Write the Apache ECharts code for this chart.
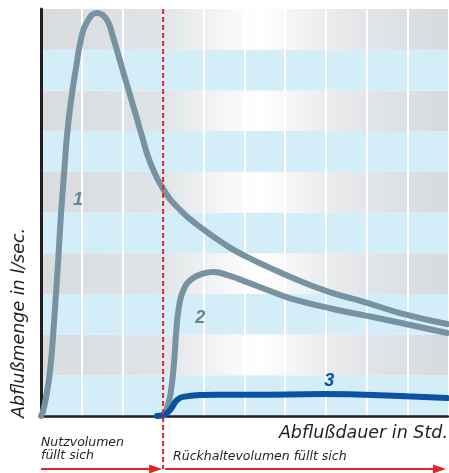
<!DOCTYPE html>
<html>
<head>
<meta charset="utf-8">
<script src="https://cdn.jsdelivr.net/npm/echarts@6/dist/echarts.min.js"></script>
<style>
  html, body { margin: 0; padding: 0; background: #fff; }
  #chart { width: 449px; height: 473px; }
</style>
</head>
<body>
<div id="chart"></div>
<script>
  // [hours, l/sec] (axes are unlabelled, 1 unit = 1 grid cell)
  var curve1 = [[0, 0], [0.05, 0.12], [0.12, 0.44], [0.20, 0.93], [0.27, 1.62], [0.34, 2.60], [0.42, 3.78],
    [0.49, 4.94], [0.57, 6.00], [0.64, 6.90], [0.74, 7.76], [0.86, 8.55], [0.98, 9.24], [1.13, 9.68],
    [1.38, 9.90], [1.52, 9.85], [1.65, 9.68], [1.77, 9.31], [1.92, 8.80], [2.09, 8.21], [2.26, 7.64],
    [2.46, 6.95], [2.68, 6.24], [3.00, 5.58], [3.42, 5.06], [3.98, 4.59], [4.57, 4.18], [5.06, 3.91],
    [5.63, 3.64], [6.19, 3.39], [6.61, 3.22], [7.17, 3.02], [8.01, 2.78], [8.82, 2.53], [9.98, 2.26]];
  var curve2 = [[3.00, 0], [3.10, 0.20], [3.19, 0.59], [3.27, 1.33], [3.32, 2.04], [3.39, 2.68], [3.51, 3.12],
    [3.71, 3.37], [3.96, 3.49], [4.23, 3.54], [4.64, 3.44], [5.06, 3.29], [5.63, 3.07], [6.19, 2.87],
    [7.17, 2.63], [8.01, 2.46], [8.82, 2.29], [9.98, 2.04]];
  var curve3 = [[2.85, 0], [3.00, 0.02], [3.17, 0.15], [3.34, 0.39], [3.49, 0.47], [4.32, 0.52], [5.14, 0.52],
    [6.95, 0.54], [8.82, 0.49], [9.98, 0.44]];

  var curveNames = ['1', '2', '3'];
  var namePos = [[0.91, 5.31], [3.91, 2.41], [7.08, 0.86]];
  var curveColors = ['#7792a0', '#7792a0', '#0a52a2'];
  var nameColors = ['#6a8593', '#6a8593', '#0a55a8'];

  var fillTime = 3;   // Nutzvolumen voll
  var xMax = 10, yMax = 10;

  var xTitle = 'Abflußdauer in Std.';
  var yTitle = 'Abflußmenge in l/sec.';
  var phase1 = ['Nutzvolumen', 'füllt sich'];
  var phase2 = 'Rückhaltevolumen füllt sich';

  var red = '#e5232b';
  var txtFont = 'DejaVu Sans';

  var greyBand = {
    type: 'linear', x: 0, y: 0, x2: 1, y2: 0,
    colorStops: [
      { offset: 0, color: '#d8dcdf' },
      { offset: 0.3, color: '#e1e4e6' },
      { offset: 0.53, color: '#ffffff' },
      { offset: 0.72, color: '#e8eaec' },
      { offset: 1, color: '#d6dadd' }
    ]
  };

  var series = [curve1, curve2, curve3].map(function (d, i) {
    return {
      type: 'line',
      data: d,
      smooth: 0.5,
      showSymbol: false,
      silent: true,
      lineStyle: { color: curveColors[i], width: 6, cap: 'round' },
      markPoint: {
        symbol: 'circle',
        symbolSize: 0,
        silent: true,
        label: {
          show: true, position: 'inside',
          formatter: curveNames[i],
          color: nameColors[i],
          fontSize: 18, fontWeight: 'bold', fontStyle: 'italic',
          fontFamily: 'Liberation Sans'
        },
        data: [{ coord: namePos[i] }]
      }
    };
  });

  var chart = echarts.init(document.getElementById('chart'));
  chart.setOption({
    animation: false,
    backgroundColor: '#fff',
    grid: { left: 41, top: 9, right: 1, bottom: 57 },
    xAxis: {
      type: 'value', min: 0, max: xMax, interval: 1, z: 1,
      axisLine: { show: true, onZero: false, lineStyle: { color: '#231f20', width: 2.5 } },
      axisTick: { show: false },
      axisLabel: { show: false },
      splitLine: { show: true, showMinLine: false, showMaxLine: false, lineStyle: { color: '#ffffff', width: 2 } }
    },
    yAxis: {
      type: 'value', min: 0, max: yMax, interval: 1, z: 0,
      axisLine: { show: true, lineStyle: { color: '#231f20', width: 3 } },
      axisTick: { show: false },
      axisLabel: { show: false },
      splitLine: { show: false },
      splitArea: { show: true, areaStyle: { color: ['#d3edf9', greyBand] } }
    },
    series: series
  });

  // annotations below the plot, placed from axis values
  var px = function (x, y) { return chart.convertToPixel({ gridIndex: 0 }, [x, y]); };
  var pTop = px(fillTime, yMax), pBase = px(fillTime, 0);
  var x0 = px(0, 0)[0], xEnd = px(xMax, 0)[0];
  var xs = pTop[0];
  var ay = pBase[1] + 53;

  function arrow(xa, xb) {
    return [
      { type: 'line', z: 10, shape: { x1: xa, y1: ay, x2: xb - 11, y2: ay }, style: { stroke: red, lineWidth: 2 } },
      { type: 'polygon', z: 10, shape: { points: [[xb - 13, ay - 4.5], [xb, ay], [xb - 13, ay + 4.5]] }, style: { fill: red } }
    ];
  }

  function txt(s, x, y, size, align, extra) {
    var st = {
      text: s, x: x, y: y,
      fontFamily: txtFont, fontSize: size, fontStyle: 'italic',
      fill: '#231f20',
      align: align, textAlign: align,
      verticalAlign: 'middle', textVerticalAlign: 'middle'
    };
    var el = { type: 'text', z: 10, style: st };
    if (extra) for (var k in extra) el[k] = extra[k];
    return el;
  }

  var g = [
    { type: 'line', z: 10, shape: { x1: xs, y1: pTop[1], x2: xs, y2: ay }, style: { stroke: red, lineWidth: 2, lineDash: [5, 3] } }
  ];
  g = g.concat(arrow(x0, xs - 1), arrow(xs + 2, xEnd - 2));
  g.push(txt(xTitle, xEnd, pBase[1] + 17, 17.5, 'right'));
  g.push(txt(phase1[0], x0, pBase[1] + 27, 12.5, 'left'));
  g.push(txt(phase1[1], x0, pBase[1] + 40, 12.5, 'left'));
  g.push(txt(phase2, xs + 10, pBase[1] + 41, 12.5, 'left'));
  g.push(txt(yTitle, 0, 0, 17.5, 'center', { x: 19, y: 323, rotation: Math.PI / 2 }));

  chart.setOption({ graphic: { elements: g } });
</script>
</body>
</html>
